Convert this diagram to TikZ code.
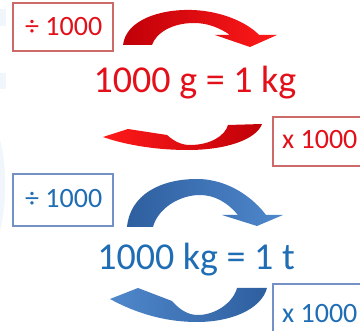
\documentclass[tikz,border=0pt]{standalone}
\usepackage{fontspec}
\setmainfont{Carlito}
\definecolor{txtred}{HTML}{E3101A}
\definecolor{txtblue}{HTML}{1F6DB5}
\definecolor{boxred}{HTML}{CC6A6A}
\definecolor{boxblue}{HTML}{7391C6}
\definecolor{arrdarkred}{HTML}{C00008}
\definecolor{arrred}{HTML}{FF1A1A}
\definecolor{arrdarkblue}{HTML}{2E5F9F}
\definecolor{arrblue}{HTML}{4F88CC}
\definecolor{faint}{HTML}{F0F6FC}
\begin{document}
\begin{tikzpicture}[x=1pt,y=-1pt,
  bigtext/.style={inner sep=0pt,anchor=base,font=\fontsize{38}{40}\selectfont},
  boxtext/.style={inner sep=0pt,anchor=base west,font=\fontsize{28}{30}\selectfont},
  redbox/.style={draw=boxred,line width=2.2pt,fill=white},
  bluebox/.style={draw=boxblue,line width=2.2pt,fill=white}]
\useasboundingbox (0,0) rectangle (360,331);
\clip (0,0) rectangle (360,331);
% faint patches at left edge
\fill[faint] (0,9) rectangle (6,26);
\fill[faint] (0,73) rectangle (6,89);
\fill[faint] (0,140) .. controls (7,165) and (7,205) .. (0,230) -- cycle;
% boxes
\draw[redbox] (13,3) rectangle (113,51);
\node[boxtext,text=txtred] (rdiv) at (25,36) {÷ 1000};
\draw[redbox] (273,117) rectangle (368,166);
\node[boxtext,text=txtred] (rmul) at (282,149) {x 1000};
\draw[bluebox] (13,174) rectangle (113,226);
\node[boxtext,text=txtblue] (bdiv) at (25,208) {÷ 1000};
\draw[bluebox] (273,284) rectangle (368,340);
\node[boxtext,text=txtblue] (bmul) at (282,323) {x 1000};
% main texts
\node[bigtext,text=txtred] (rtext) at (195,93) {1000 g = 1 kg};
\node[bigtext,text=txtblue] (btext) at (196,270) {1000 kg = 1 t};
% red top arrow
\shade[left color=arrdarkred,right color=arrred]
  (123,45) .. controls (126,20) and (160,9) .. (192,10)
  .. controls (225,11) and (250,25) .. (259,35) -- (277,35) -- (250,47) -- (215,35) -- (230,35)
  .. controls (220,28) and (208,23) .. (194,23)
  .. controls (172,23) and (156,33) .. (152,45) -- cycle;
% red bottom arrow
\shade[left color=arrred,right color=arrdarkred]
  (262,124) .. controls (256,140) and (225,150) .. (188,150)
  .. controls (150,150) and (120,143) .. (103,137) -- (128,129) -- (167,135)
  .. controls (175,142) and (182,145) .. (190,145)
  .. controls (210,145) and (225,136) .. (228,125) -- cycle;
% blue top arrow
\shade[left color=arrdarkblue,right color=arrblue]
  (127,227) .. controls (130,195) and (160,179) .. (197,179)
  .. controls (230,179) and (255,200) .. (266,215) -- (283,215) -- (257,226) -- (222,215) -- (238,215)
  .. controls (228,203) and (215,195) .. (200,195)
  .. controls (180,195) and (158,208) .. (153,227) -- cycle;
% blue bottom arrow
\shade[left color=arrblue,right color=arrdarkblue]
  (267,288) .. controls (261,310) and (230,322) .. (197,322)
  .. controls (160,322) and (130,310) .. (110,299) -- (138,288) -- (172,301)
  .. controls (180,310) and (188,315) .. (198,315)
  .. controls (215,315) and (233,303) .. (237,288) -- cycle;
\end{tikzpicture}
\end{document}
